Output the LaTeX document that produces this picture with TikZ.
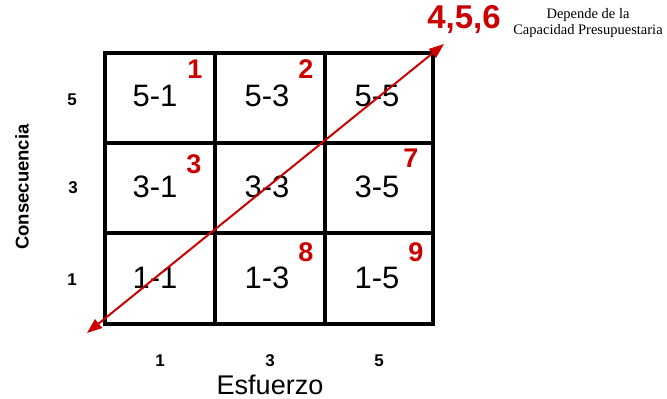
\documentclass[tikz,border=0pt]{standalone}
\usepackage{fontspec}
\setmainfont{Liberation Serif}
\setsansfont{Liberation Sans}
\usetikzlibrary{arrows.meta}
\definecolor{myred}{RGB}{204,0,0}
\begin{document}
\begin{tikzpicture}[x=1pt,y=-1pt,
  cell/.style={font=\sffamily\fontsize{31}{31}\selectfont,inner sep=0pt},
  rnum/.style={font=\sffamily\bfseries\fontsize{27}{27}\selectfont,text=myred,inner sep=0pt},
  axnum/.style={font=\sffamily\bfseries\fontsize{17}{17}\selectfont,inner sep=0pt},
  grid/.style={line width=3.2pt},
  arr/.style={draw=myred,line width=2pt,{Triangle[length=15pt,width=11pt]}-{Triangle[length=15pt,width=11pt]}}]
\useasboundingbox (0,0) rectangle (667,399);
% grid
\draw[grid] (105,53) rectangle (433,324);
\draw[grid] (215,53) -- (215,324);
\draw[grid] (325,53) -- (325,324);
\draw[grid] (105,143) -- (433,143);
\draw[grid] (105,233) -- (433,233);
% cell texts
\node[cell] (c51) at (155,96) {5-1};
\node[cell] (c53) at (267,96) {5-3};
\node[cell] (c55) at (377,96) {5-5};
\node[cell] (c31) at (155,187) {3-1};
\node[cell] (c33) at (267,187) {3-3};
\node[cell] (c35) at (377,187) {3-5};
\node[cell] (c11) at (155,278) {1-1};
\node[cell] (c13) at (267,278) {1-3};
\node[cell] (c15) at (377,278) {1-5};
% red numbers
\node[rnum] (n1) at (195,69) {1};
\node[rnum] (n2) at (306,69) {2};
\node[rnum] (n3) at (194,164) {3};
\node[rnum] (n7) at (411,158) {7};
\node[rnum] (n8) at (306,252) {8};
\node[rnum] (n9) at (416,252) {9};
% diagonal arrow
\coordinate (a) at (87,333);
\coordinate (b) at (444,44);
\draw[arr] (a) -- (b);
\node[font=\sffamily\bfseries\fontsize{33}{33}\selectfont,text=myred,inner sep=0pt] (n456) at (464,20) {4,5,6};
\node[font=\fontsize{14.5}{16}\selectfont,align=center,inner sep=0pt] (dep) at (588,23) {Depende de la\\Capacidad Presupuestaria};
% axes labels
\node[axnum] (y5) at (72,100) {5};
\node[axnum] (y3) at (73,188) {3};
\node[axnum] (y1) at (72,280) {1};
\node[axnum] (x1) at (160,361) {1};
\node[axnum] (x3) at (270,361) {3};
\node[axnum] (x5) at (379,361) {5};
\node[font=\sffamily\bfseries\fontsize{18.5}{18.5}\selectfont,rotate=90,inner sep=0pt] (ylab) at (22,187) {Consecuencia};
\node[font=\sffamily\fontsize{27}{27}\selectfont,inner sep=0pt] (xlab) at (270,385) {Esfuerzo};
\end{tikzpicture}
\end{document}
